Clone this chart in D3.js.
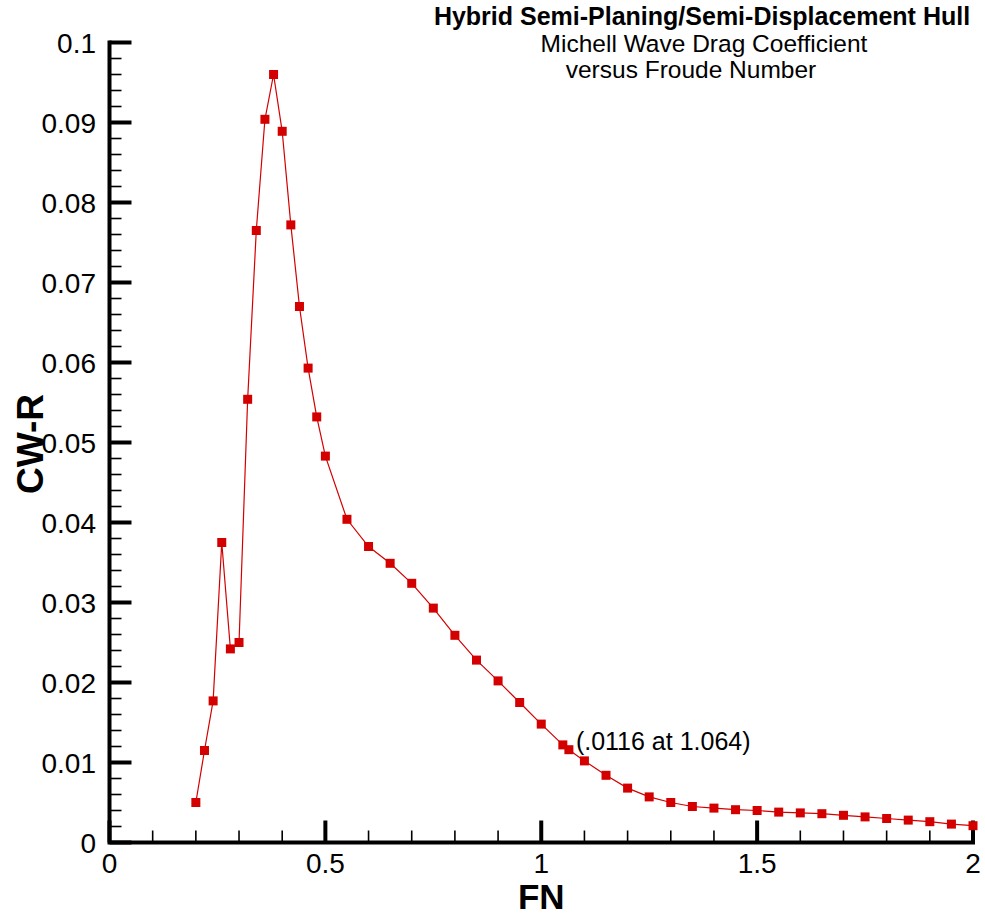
<!DOCTYPE html>
<html>
<head>
<meta charset="utf-8">
<script src="https://cdn.jsdelivr.net/npm/d3@7"></script>
<style>
  html, body { margin: 0; padding: 0; background: #fff; }
  svg { display: block; font-family: "Liberation Sans", Arial, Helvetica, sans-serif; }
</style>
</head>
<body>
<svg id="chart" width="985" height="915"></svg>
<script>
// Froude number samples
const froude = [
  0.20, 0.22, 0.24, 0.26, 0.28, 0.30, 0.32, 0.34, 0.36, 0.38,
  0.40, 0.42, 0.44, 0.46, 0.48, 0.50, 0.55, 0.60, 0.65, 0.70,
  0.75, 0.80, 0.85, 0.90, 0.95, 1.00, 1.05, 1.064, 1.10, 1.15,
  1.20, 1.25, 1.30, 1.35, 1.40, 1.45, 1.50, 1.55, 1.60, 1.65,
  1.70, 1.75, 1.80, 1.85, 1.90, 1.95, 2.00
];
// Michell wave drag coefficient at each Froude number
const cwr = [
  0.0050, 0.0115, 0.0177, 0.0375, 0.0242, 0.0250, 0.0554, 0.0765, 0.0904, 0.0960,
  0.0889, 0.0772, 0.0670, 0.0593, 0.0532, 0.0483, 0.0404, 0.0370, 0.0349, 0.0324,
  0.0293, 0.0259, 0.0228, 0.0202, 0.0175, 0.0148, 0.0122, 0.0116, 0.0102, 0.0084,
  0.0068, 0.0057, 0.0050, 0.0045, 0.0043, 0.0041, 0.0040, 0.0038, 0.0037, 0.0036,
  0.0034, 0.0032, 0.0030, 0.0028, 0.0026, 0.0023, 0.0021
];
const xTickLabels = ["0", "0.5", "1", "1.5", "2"];
const yTickLabels = ["0", "0.01", "0.02", "0.03", "0.04", "0.05", "0.06", "0.07", "0.08", "0.09", "0.1"];
const titleLines = ["Hybrid Semi-Planing/Semi-Displacement Hull", "Michell Wave Drag Coefficient", "versus Froude Number"];
const annotation = { fn: 1.064, cw: 0.0116, text: "(.0116 at 1.064)" };

const svg = d3.select("#chart");
const x = d3.scaleLinear().domain([0, 2]).range([109.5, 973]);
const y = d3.scaleLinear().domain([0, 0.1]).range([842.5, 42.5]);
const red = "#d40000";

// Axis: minor ticks first, then majors on top
const xMinor = d3.range(0, 2.0001, 0.1).filter((v, i) => i % 5 !== 0);
const xMajor = xTickLabels.map(Number);
const yMinor = d3.range(0, 0.10001, 0.002).filter((v, i) => i % 5 !== 0);
const yMajor = yTickLabels.map(Number);

const axisG = svg.append("g");
axisG.selectAll(".xminor").data(xMinor).join("line")
  .attr("x1", d => x(d)).attr("x2", d => x(d))
  .attr("y1", y(0)).attr("y2", y(0) - 12)
  .attr("stroke", "#000").attr("stroke-width", 1.6);
axisG.selectAll(".xmajor").data(xMajor).join("line")
  .attr("x1", d => x(d)).attr("x2", d => x(d))
  .attr("y1", y(0)).attr("y2", y(0) - 22)
  .attr("stroke", "#000").attr("stroke-width", 4);
axisG.selectAll(".yminor").data(yMinor).join("line")
  .attr("x1", x(0)).attr("x2", x(0) + 12)
  .attr("y1", d => y(d)).attr("y2", d => y(d))
  .attr("stroke", "#000").attr("stroke-width", 1.6);
axisG.selectAll(".ymajor").data(yMajor).join("line")
  .attr("x1", x(0)).attr("x2", x(0) + 22)
  .attr("y1", d => y(d)).attr("y2", d => y(d))
  .attr("stroke", "#000").attr("stroke-width", 4);
// Axis lines
axisG.append("path")
  .attr("d", `M${x(0)},${y(0.1) - 2}V${y(0)}H${x(2) + 2}`)
  .attr("fill", "none").attr("stroke", "#000").attr("stroke-width", 4)
  .attr("stroke-linejoin", "miter");

// Tick labels
svg.append("g").selectAll("text").data(xTickLabels).join("text")
  .attr("x", d => x(+d)).attr("y", 873)
  .attr("text-anchor", "middle").attr("font-size", 28).text(d => d);
svg.append("g").selectAll("text").data(yTickLabels).join("text")
  .attr("x", 96).attr("y", d => y(+d) + 10)
  .attr("text-anchor", "end").attr("font-size", 28).text(d => d);

// Axis titles
svg.append("text").attr("x", x(1)).attr("y", 909)
  .attr("text-anchor", "middle").attr("font-size", 35).attr("font-weight", "bold")
  .text("FN");
svg.append("text").attr("transform", "translate(43,444) rotate(-90)")
  .attr("text-anchor", "middle").attr("font-size", 37).attr("font-weight", "bold")
  .text("CW-R");

// Series line and square markers
const pts = froude.map((f, i) => [f, cwr[i]]);
svg.append("path").datum(pts)
  .attr("d", d3.line().x(d => x(d[0])).y(d => y(d[1])))
  .attr("fill", "none").attr("stroke", red).attr("stroke-width", 1.2);
const m = 9;
svg.append("g").selectAll("rect").data(pts).join("rect")
  .attr("x", d => x(d[0]) - m / 2).attr("y", d => y(d[1]) - m / 2)
  .attr("width", m).attr("height", m).attr("fill", red);

// Annotation next to the marked point
svg.append("text").attr("x", x(annotation.fn) + 7).attr("y", y(annotation.cw))
  .attr("font-size", 25).text(annotation.text);

// Title block
const tb = svg.append("g");
tb.append("text").attr("x", 702).attr("y", 25).attr("text-anchor", "middle")
  .attr("font-size", 25).attr("font-weight", "bold").text(titleLines[0]);
tb.append("text").attr("x", 704).attr("y", 52).attr("text-anchor", "middle")
  .attr("font-size", 24.5).text(titleLines[1]);
tb.append("text").attr("x", 691).attr("y", 78).attr("text-anchor", "middle")
  .attr("font-size", 24.5).text(titleLines[2]);
</script>
</body>
</html>
